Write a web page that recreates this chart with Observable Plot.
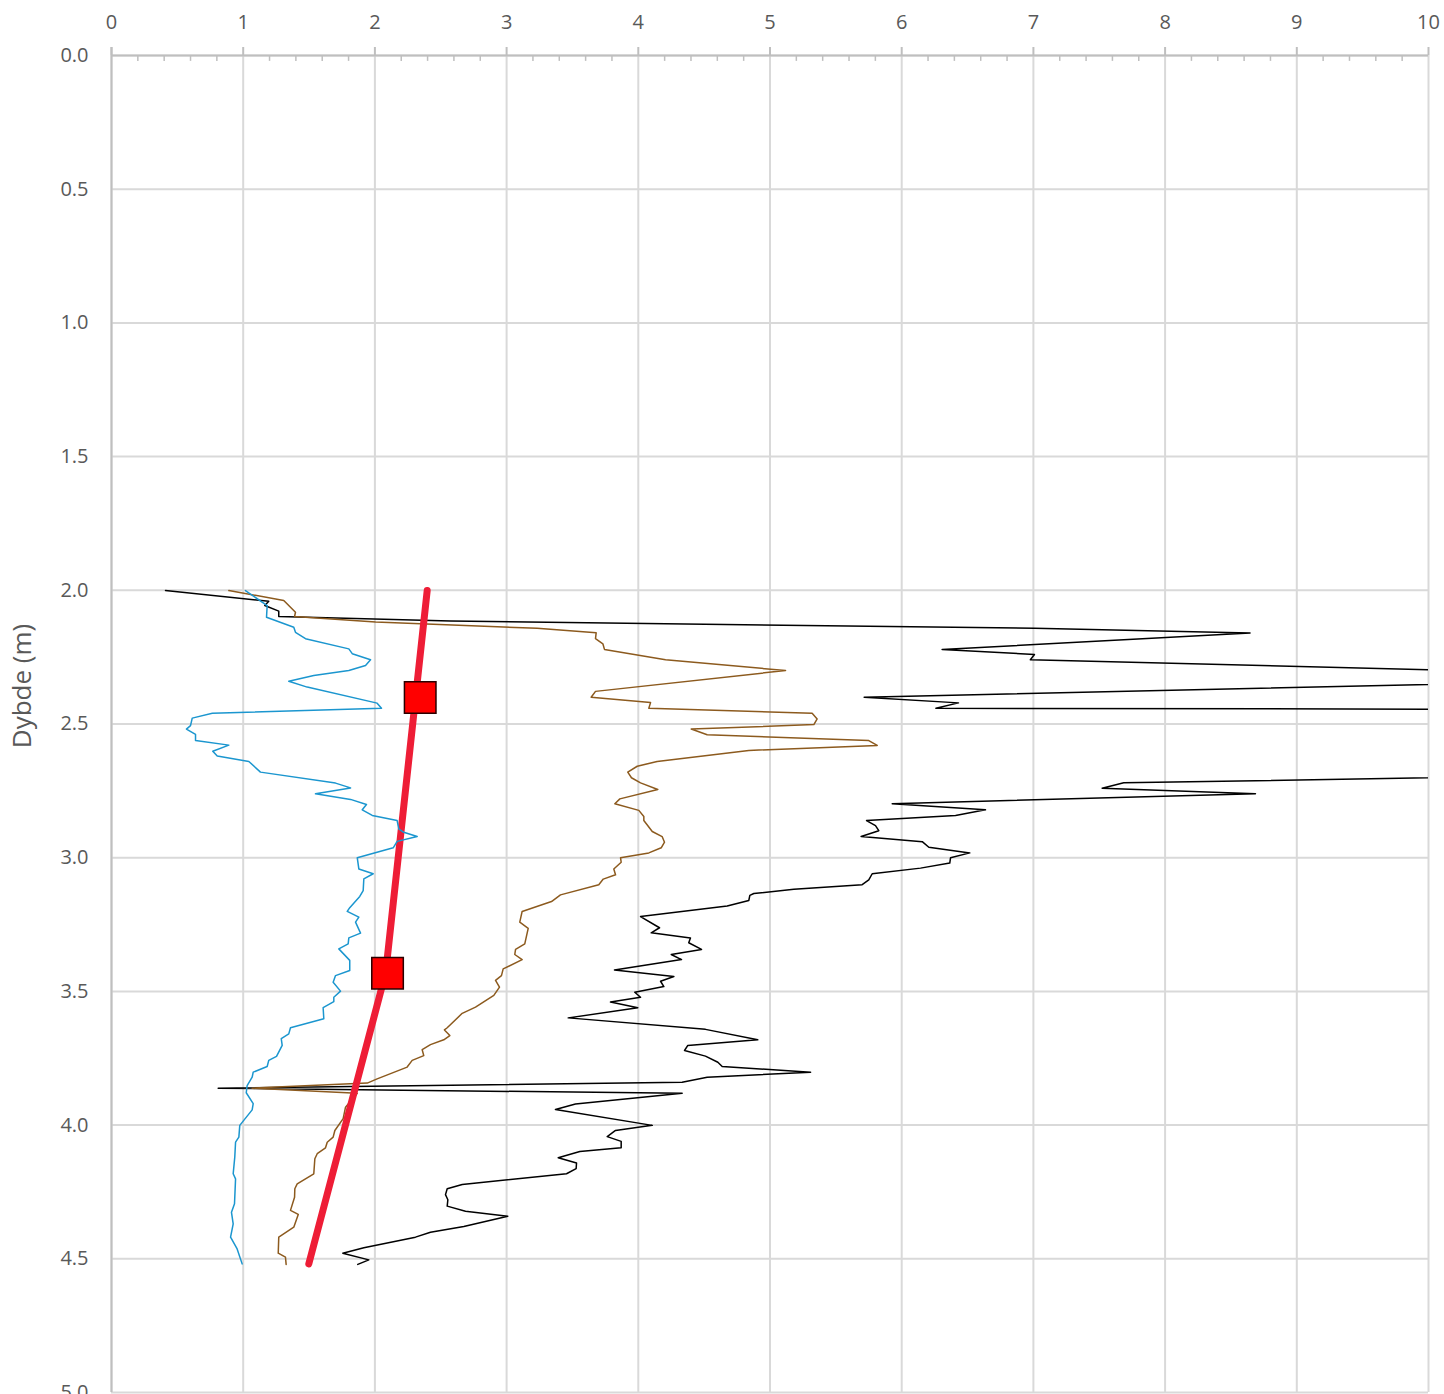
<!DOCTYPE html>
<html><head><meta charset="utf-8">
<script src="https://cdn.jsdelivr.net/npm/d3@7"></script>
<script src="https://cdn.jsdelivr.net/npm/@observablehq/plot@0.6"></script>
<style>html,body{margin:0;padding:0;background:#fff;overflow:hidden} svg{display:block}</style>
</head><body><div id="chart"></div><script>
// Tick values
const xTicks = [0,1,2,3,4,5,6,7,8,9,10];
const xMinor = [0.2,0.4,0.6,0.8,1.2,1.4,1.6,1.8,2.2,2.4,2.6,2.8,3.2,3.4,3.6,3.8,4.2,4.4,4.6,4.8,5.2,5.4,5.6,5.8,6.2,6.4,6.6,6.8,7.2,7.4,7.6,7.8,8.2,8.4,8.6,8.8,9.2,9.4,9.6,9.8];
const yTicks = [0,0.5,1,1.5,2,2.5,3,3.5,4,4.5,5];
const yLabel = "Dybde (m)";

// Series: [value, depth]
const blue = [[1.017,2.001],[1.182,2.057],[1.177,2.101],[1.384,2.138],[1.397,2.157],[1.473,2.181],[1.802,2.219],[1.828,2.237],[1.967,2.260],[1.929,2.281],[1.802,2.300],[1.536,2.319],[1.346,2.340],[1.486,2.362],[2.017,2.422],[2.050,2.441],[0.765,2.460],[0.613,2.478],[0.600,2.506],[0.569,2.519],[0.638,2.539],[0.638,2.562],[0.891,2.579],[0.769,2.602],[0.803,2.620],[1.043,2.640],[1.131,2.680],[1.701,2.721],[1.815,2.739],[1.549,2.761],[1.815,2.782],[1.936,2.801],[1.904,2.821],[1.980,2.842],[2.169,2.861],[2.181,2.892],[2.219,2.905],[2.321,2.921],[2.169,2.939],[2.139,2.963],[1.866,3.000],[1.878,3.042],[1.987,3.060],[1.916,3.079],[1.911,3.123],[1.885,3.145],[1.809,3.187],[1.790,3.201],[1.878,3.222],[1.853,3.241],[1.891,3.282],[1.802,3.300],[1.797,3.322],[1.726,3.341],[1.809,3.384],[1.809,3.422],[1.701,3.441],[1.683,3.466],[1.739,3.499],[1.688,3.522],[1.688,3.538],[1.607,3.561],[1.612,3.602],[1.359,3.636],[1.346,3.659],[1.289,3.677],[1.296,3.702],[1.253,3.743],[1.194,3.758],[1.182,3.781],[1.076,3.802],[1.068,3.821],[1.030,3.852],[1.023,3.879],[1.076,3.920],[1.068,3.943],[0.974,4.001],[0.967,4.045],[0.942,4.064],[0.936,4.120],[0.924,4.182],[0.942,4.201],[0.934,4.294],[0.911,4.326],[0.924,4.369],[0.904,4.419],[0.954,4.463],[0.992,4.519]];

const brown = [[0.891,2.001],[1.308,2.038],[1.397,2.082],[1.390,2.098],[2.005,2.119],[3.232,2.142],[3.680,2.159],[3.675,2.181],[3.731,2.200],[3.743,2.221],[4.207,2.260],[5.118,2.300],[3.675,2.378],[3.642,2.400],[4.093,2.420],[4.080,2.441],[5.320,2.460],[5.358,2.481],[5.333,2.502],[4.402,2.519],[4.523,2.540],[5.750,2.562],[5.814,2.580],[4.839,2.599],[4.143,2.640],[3.992,2.658],[3.920,2.680],[3.948,2.701],[4.017,2.720],[4.148,2.745],[3.860,2.780],[3.822,2.798],[4.004,2.823],[4.042,2.846],[4.042,2.861],[4.106,2.902],[4.181,2.921],[4.199,2.942],[4.174,2.963],[4.080,2.982],[3.865,3.000],[3.870,3.017],[3.814,3.042],[3.827,3.064],[3.734,3.080],[3.700,3.101],[3.409,3.139],[3.341,3.164],[3.118,3.201],[3.100,3.241],[3.164,3.264],[3.138,3.322],[3.068,3.343],[3.062,3.362],[3.118,3.381],[2.974,3.416],[2.961,3.441],[2.916,3.459],[2.946,3.484],[2.903,3.515],[2.764,3.559],[2.663,3.582],[2.549,3.636],[2.528,3.644],[2.569,3.665],[2.523,3.681],[2.422,3.699],[2.359,3.718],[2.371,3.740],[2.283,3.758],[2.245,3.783],[2.017,3.827],[1.942,3.843],[1.068,3.862],[1.866,3.881],[1.840,3.896],[1.777,3.933],[1.759,3.976],[1.696,4.020],[1.683,4.045],[1.638,4.064],[1.625,4.085],[1.562,4.107],[1.544,4.126],[1.536,4.182],[1.410,4.220],[1.392,4.238],[1.390,4.270],[1.359,4.319],[1.418,4.334],[1.384,4.382],[1.270,4.419],[1.266,4.479],[1.321,4.494],[1.326,4.521]];

const black = [[0.410,2.001],[1.194,2.041],[1.164,2.057],[1.270,2.078],[1.270,2.098],[2.574,2.115],[7.008,2.142],[8.645,2.160],[6.307,2.221],[7.008,2.240],[6.977,2.260],[12.35,2.326],[5.715,2.400],[6.431,2.421],[6.260,2.441],[20,2.454],[20,2.621],[7.686,2.720],[7.522,2.740],[8.686,2.761],[5.928,2.798],[6.636,2.821],[6.409,2.842],[5.733,2.861],[5.801,2.880],[5.826,2.899],[5.692,2.921],[6.156,2.940],[6.206,2.961],[6.517,2.982],[6.371,3.000],[6.365,3.020],[6.143,3.039],[5.776,3.060],[5.750,3.083],[5.700,3.101],[5.181,3.118],[4.877,3.134],[4.847,3.141],[4.839,3.160],[4.675,3.181],[4.017,3.220],[4.161,3.262],[4.098,3.281],[4.396,3.300],[4.383,3.318],[4.480,3.343],[4.250,3.362],[4.328,3.381],[3.819,3.420],[4.270,3.444],[4.169,3.462],[4.194,3.482],[3.973,3.503],[4.017,3.522],[3.789,3.540],[3.996,3.561],[3.468,3.599],[4.510,3.642],[4.907,3.681],[4.376,3.702],[4.351,3.721],[4.510,3.742],[4.604,3.765],[4.637,3.781],[5.308,3.802],[4.523,3.821],[4.333,3.840],[0.810,3.862],[4.333,3.881],[3.523,3.921],[3.371,3.942],[4.106,4.001],[3.827,4.020],[3.764,4.043],[3.870,4.061],[3.870,4.085],[3.556,4.099],[3.392,4.122],[3.531,4.142],[3.528,4.163],[3.455,4.182],[2.663,4.222],[2.549,4.238],[2.536,4.260],[2.554,4.279],[2.549,4.303],[2.688,4.322],[3.009,4.341],[2.675,4.379],[2.422,4.401],[2.308,4.419],[1.916,4.459],[1.756,4.479],[1.954,4.504],[1.870,4.521]];

const redLine = [[2.397,2.001],[2.082,3.430],[2.043,3.503],[1.498,4.519]];
const squares = [[2.344,2.401],[2.096,3.432]];

const gridColor = "#d9d9d9", axisColor = "#bfbfbf", textColor = "#595959";

const chart = Plot.plot({
  width: 1444, height: 1420,
  marginTop: 55, marginLeft: 111, marginRight: 16, marginBottom: 28,
  x: {domain: [0, 10]},
  y: {domain: [0, 5], reverse: true},
  style: {fontFamily: "'Open Sans', 'Noto Sans', sans-serif", fontSize: "20px", background: "#fff", overflow: "visible"},
  marks: [
    Plot.gridX(xTicks, {stroke: gridColor, strokeOpacity: 1, strokeWidth: 2}),
    Plot.gridY(yTicks, {stroke: gridColor, strokeOpacity: 1, strokeWidth: 2}),
    Plot.ruleY([0], {stroke: axisColor, strokeWidth: 2}),
    Plot.ruleX([0], {y1: -0.03, y2: 5, stroke: axisColor, strokeWidth: 2}),
    Plot.ruleX(xTicks, {y1: -0.03, y2: 0, stroke: axisColor, strokeWidth: 2}),
    Plot.ruleX(xMinor, {y1: 0, y2: 0.022, stroke: axisColor, strokeWidth: 1.5}),
    Plot.axisX(xTicks, {anchor: "top", tickSize: 0, tickPadding: 33, lineAnchor: "middle", tickFormat: d => String(d), fontSize: 20, color: textColor, label: null}),
    Plot.axisY(yTicks, {anchor: "left", tickSize: 0, tickPadding: 23, tickFormat: d => d.toFixed(1), fontSize: 20, color: textColor, label: null}),
    Plot.text([yLabel], {frameAnchor: "left", dx: -89, dy: -38, rotate: -90, textAnchor: "middle", lineAnchor: "middle", fontSize: 26, fill: textColor}),
    Plot.line(black, {x: d => d[0], y: d => d[1], stroke: "#000", strokeWidth: 1.5, clip: true}),
    Plot.line(brown, {x: d => d[0], y: d => d[1], stroke: "#8C5A1E", strokeWidth: 1.5}),
    Plot.line(redLine, {x: d => d[0], y: d => d[1], stroke: "#EE1D36", strokeWidth: 7, strokeLinecap: "round", strokeLinejoin: "round"}),
    Plot.line(blue, {x: d => d[0], y: d => d[1], stroke: "#1B96CF", strokeWidth: 1.5}),
    Plot.dot(squares, {x: d => d[0], y: d => d[1], symbol: "square", r: 17.8, fill: "#FF0000", stroke: "#2a0000", strokeWidth: 1.5})
  ]
});
document.getElementById("chart").appendChild(chart);
</script></body></html>
